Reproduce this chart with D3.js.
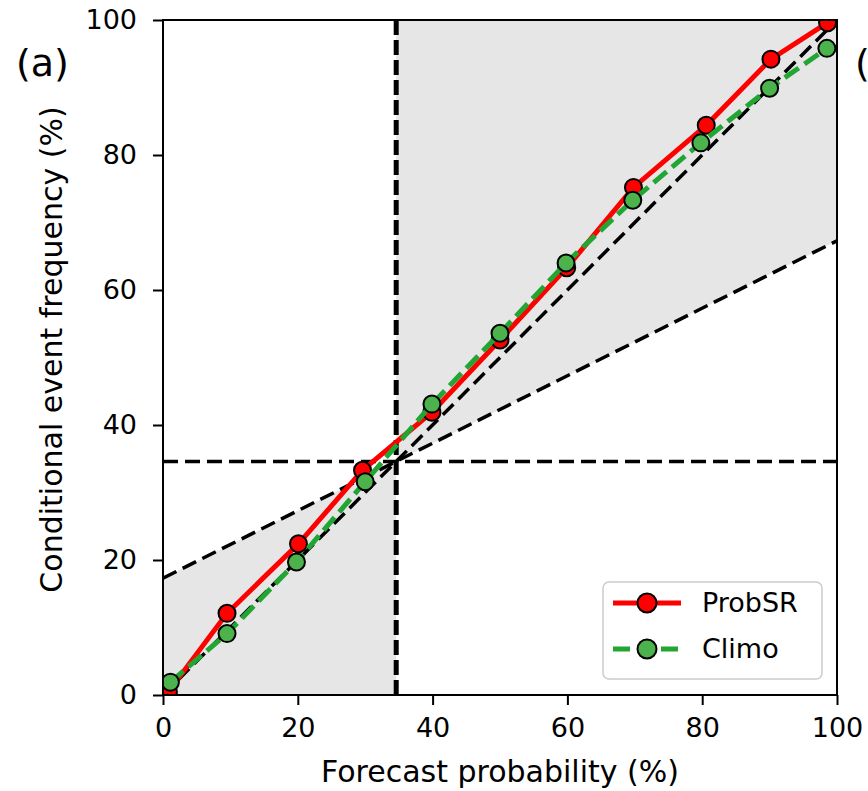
<!DOCTYPE html>
<html lang="en">
<head>
    <meta charset="UTF-8">
    <title>Reliability diagram</title>
    <style>
        body {
            margin: 0;
            padding: 0;
            background: #fff;
        }
        svg {
            font-family: "DejaVu Sans", sans-serif;
        }
        .tick text {
            font-size: 27px;
            fill: #000;
        }
    </style>
    <script src="https://d3js.org/d3.v7.min.js"></script>
</head>
<body>
    <svg width="868" height="791"></svg>
    <script>
        // values
        const clim = 34.6;
        const probX = [0.8, 9.5, 20.1, 29.6, 39.9, 50.0, 59.9, 69.8, 80.6, 90.2, 98.6];
        const probY = [0.5, 12.1, 22.4, 33.3, 41.9, 52.6, 63.3, 75.2, 84.4, 94.2, 99.6];
        const climoX = [1.1, 9.5, 19.8, 30.0, 39.9, 50.0, 59.8, 69.7, 79.8, 90.0, 98.5];
        const climoY = [1.9, 9.1, 19.7, 31.6, 43.1, 53.6, 64.0, 73.3, 81.8, 89.9, 95.8];
        const tickValues = [0, 20, 40, 60, 80, 100];
        const seriesNames = ["ProbSR", "Climo"];

        const svg = d3.select("svg");
        const margin = {left: 163, top: 20, right: 31, bottom: 96};
        const width = +svg.attr("width") - margin.left - margin.right;
        const height = +svg.attr("height") - margin.top - margin.bottom;

        const x = d3.scaleLinear().domain([0, 100]).range([0, width]);
        const y = d3.scaleLinear().domain([0, 100]).range([height, 0]);

        const g = svg.append("g")
            .attr("transform", `translate(${margin.left},${margin.top})`);

        svg.append("defs").append("clipPath")
            .attr("id", "plot-clip")
            .append("rect")
            .attr("width", width)
            .attr("height", height);

        const plot = g.append("g").attr("clip-path", "url(#plot-clip)");

        // skill regions
        const noSkill = v => (v + clim) / 2;
        const area = d3.line().x(d => x(d[0])).y(d => y(d[1]));
        plot.append("path")
            .attr("d", area([[0, 0], [0, noSkill(0)], [clim, clim], [clim, 0]]) + "Z")
            .attr("fill", "#e6e6e6");
        plot.append("path")
            .attr("d", area([[clim, clim], [clim, 100], [100, 100], [100, noSkill(100)]]) + "Z")
            .attr("fill", "#e6e6e6");

        // reference lines
        const refLine = (pts, w, dash) => plot.append("path")
            .attr("d", area(pts))
            .attr("fill", "none")
            .attr("stroke", "#000")
            .attr("stroke-width", w)
            .attr("stroke-dasharray", dash);

        refLine([[0, clim], [100, clim]], 3.5, "15,7");
        refLine([[0, 0], [100, 100]], 3.5, "15,7");
        refLine([[0, noSkill(0)], [100, noSkill(100)]], 3.5, "15,7");
        refLine([[clim, 0], [clim, 100]], 5, "15,5");

        // series
        const series = [
            {name: seriesNames[0], xs: probX, ys: probY, color: "#ff0000", fill: "#ff0000", dash: null},
            {name: seriesNames[1], xs: climoX, ys: climoY, color: "#22a532", fill: "#4cb24c", dash: "17,7"}
        ];

        series.forEach(s => {
            const pts = s.xs.map((v, i) => [v, s.ys[i]]);
            plot.append("path")
                .attr("d", area(pts))
                .attr("fill", "none")
                .attr("stroke", s.color)
                .attr("stroke-width", 5)
                .attr("stroke-dasharray", s.dash);
            plot.selectAll(null)
                .data(pts)
                .enter().append("circle")
                .attr("cx", d => x(d[0]))
                .attr("cy", d => y(d[1]))
                .attr("r", 8.5)
                .attr("fill", s.fill)
                .attr("stroke", "#000")
                .attr("stroke-width", 2);
        });

        // axes
        const xAxis = g.append("g")
            .attr("transform", `translate(0,${height})`)
            .call(d3.axisBottom(x).tickValues(tickValues).tickSize(10).tickPadding(13));
        const yAxis = g.append("g")
            .call(d3.axisLeft(y).tickValues(tickValues).tickSize(10).tickPadding(16));
        [xAxis, yAxis].forEach(a => {
            a.selectAll("line").attr("stroke", "#000").attr("stroke-width", 2);
            a.select(".domain").remove();
            a.selectAll("text").attr("font-family", "DejaVu Sans, sans-serif");
        });

        g.append("rect")
            .attr("width", width)
            .attr("height", height)
            .attr("fill", "none")
            .attr("stroke", "#000")
            .attr("stroke-width", 2);

        // axis labels
        g.append("text")
            .attr("x", width / 2)
            .attr("y", height + 87)
            .attr("text-anchor", "middle")
            .attr("font-size", 30)
            .text("Forecast probability (%)");
        g.append("text")
            .attr("transform", `translate(${62 - margin.left},${height / 2 - 8}) rotate(-90)`)
            .attr("text-anchor", "middle")
            .attr("font-size", 30)
            .text("Conditional event frequency (%)");

        // legend
        const legend = g.append("g")
            .attr("transform", `translate(${603 - margin.left},${582 - margin.top})`);
        legend.append("rect")
            .attr("width", 219)
            .attr("height", 97)
            .attr("rx", 6)
            .attr("fill", "#fff")
            .attr("fill-opacity", 0.8)
            .attr("stroke", "#cccccc")
            .attr("stroke-width", 1.5);
        series.forEach((s, i) => {
            const row = legend.append("g").attr("transform", `translate(0,${21 + i * 46})`);
            row.append("line")
                .attr("x1", 10).attr("x2", 78)
                .attr("stroke", s.color)
                .attr("stroke-width", 5)
                .attr("stroke-dasharray", s.dash);
            row.append("circle")
                .attr("cx", 44)
                .attr("r", 9.5)
                .attr("fill", s.fill)
                .attr("stroke", "#000")
                .attr("stroke-width", 2);
            row.append("text")
                .attr("x", 99)
                .attr("dy", "0.35em")
                .attr("font-size", 27)
                .text(s.name);
        });

        // panel letters
        svg.append("text").attr("x", 16).attr("y", 76).attr("font-size", 38).text("(a)");
        svg.append("text").attr("x", 855).attr("y", 76).attr("font-size", 38).text("(b)");
    </script>
</body>
</html>
